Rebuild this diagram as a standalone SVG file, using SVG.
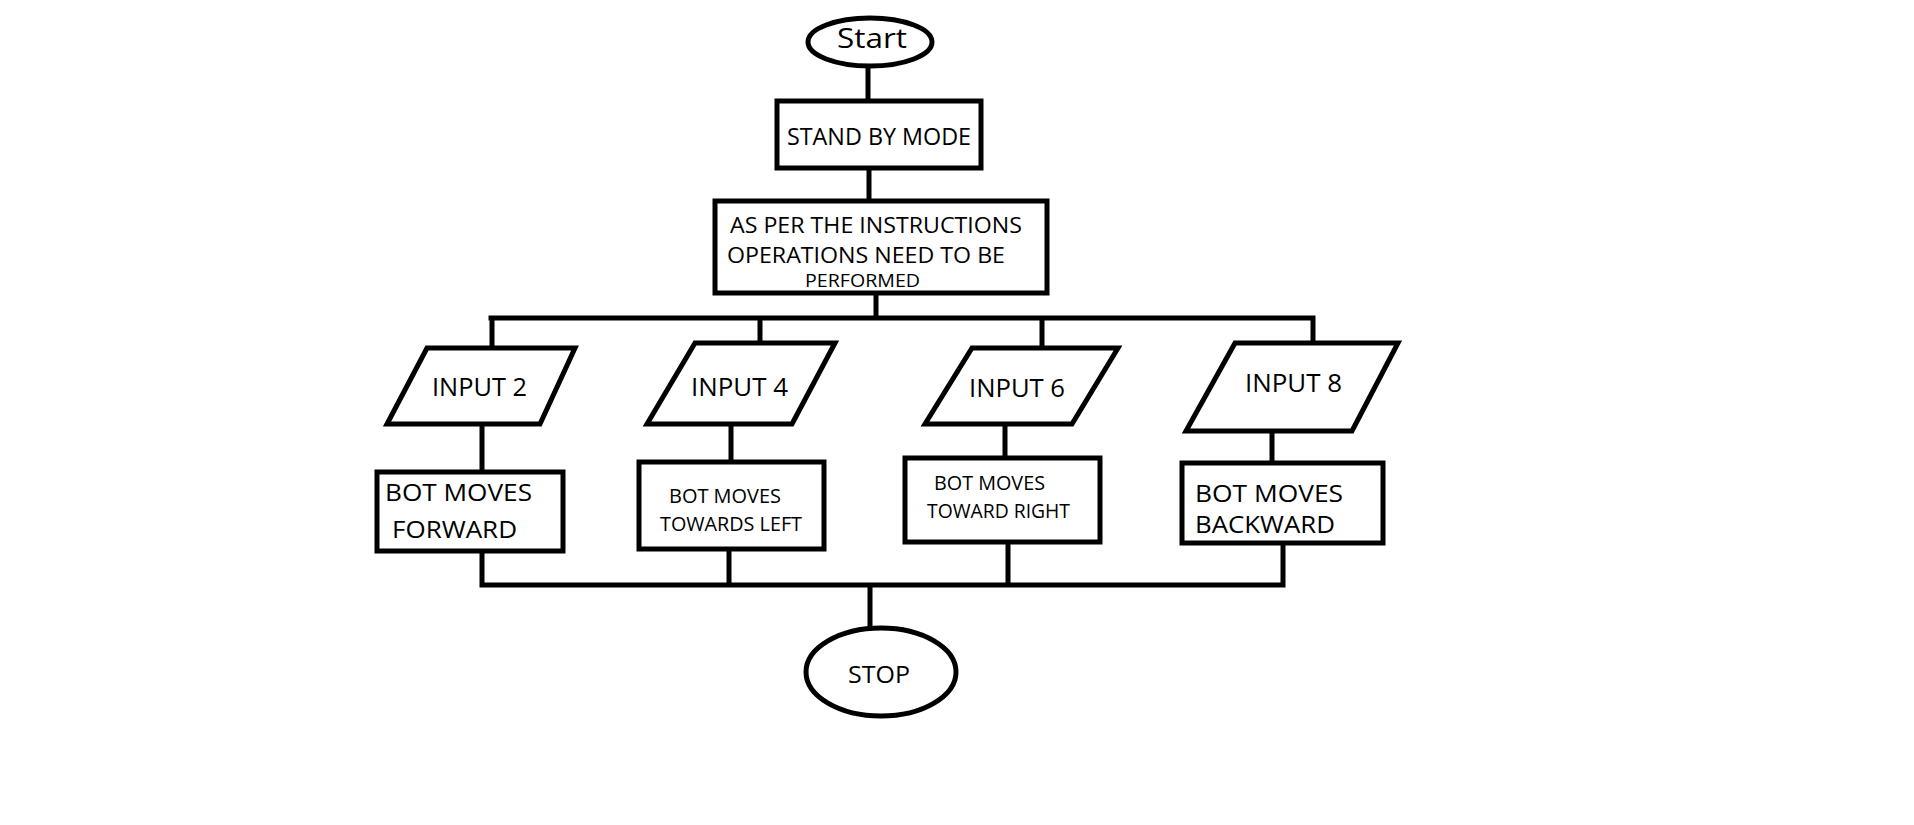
<svg xmlns="http://www.w3.org/2000/svg" width="1914" height="825" viewBox="0 0 1914 825">
<style>
.s{fill:#fff;stroke:#000;stroke-width:5}
.c{fill:none;stroke:#000;stroke-width:5;stroke-linecap:square}
text{font-family:"Open Sans","Noto Sans","DejaVu Sans",sans-serif;fill:#000}
</style>
<rect width="1914" height="825" fill="#fff"/>
<g id="connectors">
<path class="c" d="M868 67V100M869 168V201M876 293V318M491 318H1313M492 318V348M760 318V343M1042 318V348M1313 318V343"/>
<path class="c" d="M482 424V472M731 424V462M1005 424V458M1272 431V463"/>
<path class="c" d="M482 551V585M729 549V585M1008 542V585M1283 543V585M482 585H1283M870 585V628"/>
</g>
<g id="start"><ellipse class="s" cx="870" cy="42" rx="62" ry="24"/><text x="837" y="48" font-size="28" textLength="70" lengthAdjust="spacingAndGlyphs">Start</text></g>
<g id="standby"><rect class="s" x="777" y="101" width="204" height="67"/><text x="787" y="145" font-size="23" textLength="184" lengthAdjust="spacingAndGlyphs">STAND BY MODE</text></g>
<g id="instructions"><rect class="s" x="715" y="201" width="332" height="92"/>
<text x="730" y="233" font-size="21" textLength="292" lengthAdjust="spacingAndGlyphs">AS PER THE INSTRUCTIONS</text>
<text x="727" y="263" font-size="21" textLength="278" lengthAdjust="spacingAndGlyphs">OPERATIONS NEED TO BE</text>
<text x="805" y="287" font-size="18" textLength="115" lengthAdjust="spacingAndGlyphs">PERFORMED</text></g>
<g id="input2"><polygon class="s" points="427,348 575,348 540,424 387,424"/><text x="432" y="396" font-size="26" textLength="95" lengthAdjust="spacingAndGlyphs">INPUT 2</text></g>
<g id="input4"><polygon class="s" points="695,343 835,343 792,424 647,424"/><text x="691" y="396" font-size="26" textLength="97" lengthAdjust="spacingAndGlyphs">INPUT 4</text></g>
<g id="input6"><polygon class="s" points="972,348 1118,348 1072,424 925,424"/><text x="969" y="397" font-size="26" textLength="96" lengthAdjust="spacingAndGlyphs">INPUT 6</text></g>
<g id="input8"><polygon class="s" points="1235,343 1398,343 1352,431 1186,431"/><text x="1245" y="392" font-size="26" textLength="97" lengthAdjust="spacingAndGlyphs">INPUT 8</text></g>
<g id="forward"><rect class="s" x="377" y="472" width="186" height="79"/>
<text x="385" y="501" font-size="24" textLength="147" lengthAdjust="spacingAndGlyphs">BOT MOVES</text>
<text x="392" y="538" font-size="24" textLength="125" lengthAdjust="spacingAndGlyphs">FORWARD</text></g>
<g id="left"><rect class="s" x="639" y="462" width="185" height="87"/>
<text x="669" y="503" font-size="20" textLength="112" lengthAdjust="spacingAndGlyphs">BOT MOVES</text>
<text x="660" y="531" font-size="20" textLength="142" lengthAdjust="spacingAndGlyphs">TOWARDS LEFT</text></g>
<g id="right"><rect class="s" x="905" y="458" width="195" height="84"/>
<text x="934" y="490" font-size="20" textLength="111" lengthAdjust="spacingAndGlyphs">BOT MOVES</text>
<text x="927" y="518" font-size="20" textLength="143" lengthAdjust="spacingAndGlyphs">TOWARD RIGHT</text></g>
<g id="backward"><rect class="s" x="1182" y="463" width="201" height="80"/>
<text x="1195" y="502" font-size="24" textLength="148" lengthAdjust="spacingAndGlyphs">BOT MOVES</text>
<text x="1195" y="533" font-size="24" textLength="140" lengthAdjust="spacingAndGlyphs">BACKWARD</text></g>
<g id="stop"><ellipse class="s" cx="881" cy="672" rx="75" ry="44"/><text x="848" y="683" font-size="24" textLength="62" lengthAdjust="spacingAndGlyphs">STOP</text></g>
</svg>
